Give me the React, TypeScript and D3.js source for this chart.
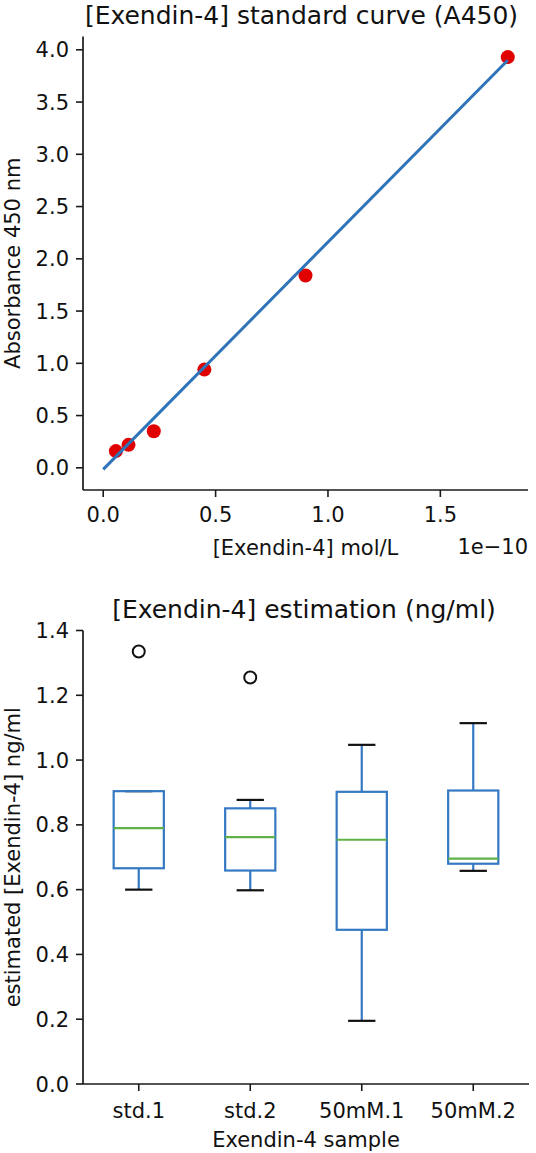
import React from 'react';
import * as d3 from 'd3';

// standard curve: serial dilution of Exendin-4 vs absorbance at 450 nm
const concentration = [5.625e-12, 1.125e-11, 2.25e-11, 4.5e-11, 9.0e-11, 1.8e-10];
const absorbance = [0.16, 0.22, 0.35, 0.94, 1.84, 3.93];
const fitSlope = 2.175e10;
const fitIntercept = -0.015;
const curveXTicks = [0, 0.5e-10, 1.0e-10, 1.5e-10];
const curveYTicks = [0, 0.5, 1.0, 1.5, 2.0, 2.5, 3.0, 3.5, 4.0];

// estimated concentrations per sample (box statistics)
const samples = ['std.1', 'std.2', '50mM.1', '50mM.2'];
const whiskerLow = [0.6, 0.598, 0.195, 0.658];
const q1 = [0.666, 0.659, 0.476, 0.68];
const medians = [0.79, 0.762, 0.754, 0.696];
const q3 = [0.904, 0.851, 0.902, 0.906];
const whiskerHigh = [0.904, 0.877, 1.047, 1.114];
const outliers = [[1.335], [1.255], [], []];
const boxYTicks = [0, 0.2, 0.4, 0.6, 0.8, 1.0, 1.2, 1.4];

const W = 536;
const H = 1153;
const FONT = 'DejaVu Sans, sans-serif';
const TICK = 21;
const TITLE = 25;
const AXIS = '#1a1a1a';
const TICK_LEN = 7;

function pad(lo: number, hi: number, f = 0.05): [number, number] {
  const r = hi - lo;
  return [lo - r * f, hi + r * f];
}

function StandardCurve() {
  const m = { left: 83, right: 528, top: 36.5, bottom: 490 };
  const xMax = d3.max(concentration)!;
  const lineY = [fitIntercept, fitIntercept + fitSlope * xMax];
  const yAll = [...absorbance, ...lineY];

  const x = d3.scaleLinear().domain(pad(0, xMax)).range([m.left, m.right]);
  const y = d3
    .scaleLinear()
    .domain(pad(d3.min(yAll)!, d3.max(yAll)!))
    .range([m.bottom, m.top]);

  const fit = d3.line<number>()
    .x((d) => x(d))
    .y((d) => y(fitIntercept + fitSlope * d));

  const cx = (m.left + m.right) / 2;

  return (
    <g>
      <text x={cx - 4} y={24} textAnchor="middle" fontSize={TITLE}>
        [Exendin-4] standard curve (A450)
      </text>

      {concentration.map((c, i) => (
        <circle key={i} cx={x(c)} cy={y(absorbance[i])} r={7} fill="#e00000" />
      ))}
      <path d={fit([0, xMax]) || ''} fill="none" stroke="#2f74b8" strokeWidth={3} />

      {/* y axis */}
      <line x1={m.left} x2={m.left} y1={m.top} y2={m.bottom} stroke={AXIS} strokeWidth={1.7} />
      {curveYTicks.map((t) => (
        <g key={t} transform={`translate(0,${y(t)})`}>
          <line x1={m.left - TICK_LEN} x2={m.left} stroke={AXIS} strokeWidth={1.6} />
          <text x={m.left - 14} dy="0.36em" textAnchor="end" fontSize={TICK}>
            {d3.format('.1f')(t)}
          </text>
        </g>
      ))}
      <text
        transform={`translate(20,${(m.top + m.bottom) / 2}) rotate(-90)`}
        textAnchor="middle"
        fontSize={TICK}
      >
        Absorbance 450 nm
      </text>

      {/* x axis */}
      <line x1={m.left} x2={m.right} y1={m.bottom} y2={m.bottom} stroke={AXIS} strokeWidth={1.7} />
      {curveXTicks.map((t) => (
        <g key={t} transform={`translate(${x(t)},0)`}>
          <line y1={m.bottom} y2={m.bottom + TICK_LEN} stroke={AXIS} strokeWidth={1.6} />
          <text y={522} textAnchor="middle" fontSize={TICK}>
            {d3.format('.1f')(t / 1e-10)}
          </text>
        </g>
      ))}
      <text x={cx} y={555} textAnchor="middle" fontSize={TICK}>
        [Exendin-4] mol/L
      </text>
      <text x={m.right} y={554} textAnchor="end" fontSize={TICK}>
        1e−10
      </text>
    </g>
  );
}

function Estimation() {
  const m = { left: 83, right: 529, top: 630.5, bottom: 1084 };
  const x = d3.scaleBand().domain(samples).range([m.left, m.right]).padding(0);
  const y = d3.scaleLinear().domain([0, 1.4]).range([m.bottom, m.top]);
  const bw = x.bandwidth();
  const boxW = bw * 0.45;
  const capW = bw * 0.245;
  const cx = (m.left + m.right) / 2;
  const blue = '#3479c2';

  return (
    <g>
      <text x={cx - 2} y={618} textAnchor="middle" fontSize={TITLE}>
        [Exendin-4] estimation (ng/ml)
      </text>

      {samples.map((s, i) => {
        const c = x(s)! + bw / 2;
        return (
          <g key={s}>
            <line x1={c} x2={c} y1={y(q3[i])} y2={y(whiskerHigh[i])} stroke={blue} strokeWidth={2.2} />
            <line x1={c} x2={c} y1={y(q1[i])} y2={y(whiskerLow[i])} stroke={blue} strokeWidth={2.2} />
            <line
              x1={c - capW / 2}
              x2={c + capW / 2}
              y1={y(whiskerHigh[i])}
              y2={y(whiskerHigh[i])}
              stroke="#111"
              strokeWidth={2.2}
            />
            <line
              x1={c - capW / 2}
              x2={c + capW / 2}
              y1={y(whiskerLow[i])}
              y2={y(whiskerLow[i])}
              stroke="#111"
              strokeWidth={2.2}
            />
            <rect
              x={c - boxW / 2}
              y={y(q3[i])}
              width={boxW}
              height={y(q1[i]) - y(q3[i])}
              fill="none"
              stroke={blue}
              strokeWidth={2.2}
            />
            <line
              x1={c - boxW / 2}
              x2={c + boxW / 2}
              y1={y(medians[i])}
              y2={y(medians[i])}
              stroke="#5fb246"
              strokeWidth={2.2}
            />
            {outliers[i].map((v, k) => (
              <circle key={k} cx={c} cy={y(v)} r={6} fill="none" stroke="#111" strokeWidth={2} />
            ))}
          </g>
        );
      })}

      {/* y axis */}
      <line x1={m.left} x2={m.left} y1={m.top} y2={m.bottom} stroke={AXIS} strokeWidth={1.7} />
      {boxYTicks.map((t) => (
        <g key={t} transform={`translate(0,${y(t)})`}>
          <line x1={m.left - TICK_LEN} x2={m.left} stroke={AXIS} strokeWidth={1.6} />
          <text x={m.left - 14} dy="0.36em" textAnchor="end" fontSize={TICK}>
            {d3.format('.1f')(t)}
          </text>
        </g>
      ))}
      <text
        transform={`translate(20,${(m.top + m.bottom) / 2}) rotate(-90)`}
        textAnchor="middle"
        fontSize={TICK}
      >
        estimated [Exendin-4] ng/ml
      </text>

      {/* x axis */}
      <line x1={m.left} x2={m.right} y1={m.bottom} y2={m.bottom} stroke={AXIS} strokeWidth={1.7} />
      {samples.map((s) => (
        <g key={s} transform={`translate(${x(s)! + bw / 2},0)`}>
          <line y1={m.bottom} y2={m.bottom + TICK_LEN} stroke={AXIS} strokeWidth={1.6} />
          <text y={1118} textAnchor="middle" fontSize={TICK}>
            {s}
          </text>
        </g>
      ))}
      <text x={cx} y={1147} textAnchor="middle" fontSize={TICK}>
        Exendin-4 sample
      </text>
    </g>
  );
}

export default function App() {
  return (
    <svg
      width={W}
      height={H}
      viewBox={`0 0 ${W} ${H}`}
      style={{ position: 'absolute', left: 0, top: 0, background: '#fff' }}
      fontFamily={FONT}
      fill="#111"
    >
      <rect width={W} height={H} fill="#fff" />
      <StandardCurve />
      <Estimation />
    </svg>
  );
}
